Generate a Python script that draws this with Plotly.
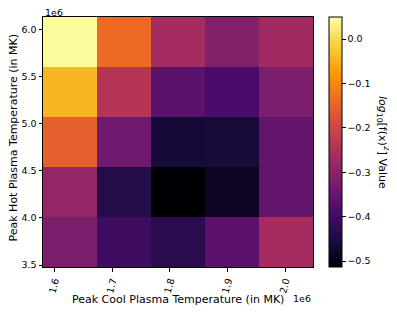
import plotly.graph_objects as go

# Cell centres (data coordinates)
x_cool = [1.6268e6, 1.7204e6, 1.8140e6, 1.9076e6, 2.0012e6]
y_hot = [3.745e6, 4.275e6, 4.805e6, 5.335e6, 5.865e6]

# log10[f(x)^2] values, rows bottom -> top
z_vals = [
    [-0.319, -0.404, -0.430, -0.364, -0.262],
    [-0.287, -0.440, -0.513, -0.482, -0.353],
    [-0.154, -0.339, -0.460, -0.458, -0.355],
    [-0.044, -0.239, -0.366, -0.388, -0.319],
    [0.044, -0.138, -0.263, -0.311, -0.271],
]

x_ticks = [1.6e6, 1.7e6, 1.8e6, 1.9e6, 2.0e6]
x_ticklabels = ["1.6", "1.7", "1.8", "1.9", "2.0"]
y_ticks = [3.5e6, 4.0e6, 4.5e6, 5.0e6, 5.5e6, 6.0e6]
y_ticklabels = ["3.5", "4.0", "4.5", "5.0", "5.5", "6.0"]
cb_ticks = [0.0, -0.1, -0.2, -0.3, -0.4, -0.5]
cb_ticklabels = ["0.0", "\u22120.1", "\u22120.2", "\u22120.3", "\u22120.4", "\u22120.5"]

inferno = ['#000004', '#1b0c41', '#4a0c6b', '#781c6d', '#a52c60',
           '#cf4446', '#ed6925', '#fb9b06', '#f7d13d', '#fcffa4']
cscale = [[i / (len(inferno) - 1), c] for i, c in enumerate(inferno)]

FONT = "DejaVu Sans"
OFF = 8            # browser body margin
PL, PT = 43, 17    # plot-area left/top in the screenshot
PW, PH = 270.0, 250.0


def px(X):
    return (X - PL) / PW


def py(Y):
    return (PT + PH - Y) / PH


fig = go.Figure(go.Heatmap(
    x=x_cool, y=y_hot, z=z_vals,
    colorscale=cscale, zmin=-0.5135, zmax=0.0496,
    showscale=True,
    colorbar=dict(
        x=px(329), xanchor="left",
        y=0, yanchor="bottom",
        len=1, lenmode="fraction", thickness=13, thicknessmode="pixels",
        outlinecolor="black", outlinewidth=1,
        tickvals=cb_ticks, ticktext=cb_ticklabels,
        ticks="outside", ticklen=3.5, tickcolor="black",
        tickfont=dict(family=FONT, size=9.5, color="black"),
        xpad=0, ypad=0,
    ),
))

W, H = 397 - OFF, 313 - OFF
fig.update_layout(
    width=W, height=H,
    margin=dict(l=PL - OFF, r=W - (PL - OFF) - PW, t=PT - OFF,
                b=H - (PT - OFF) - PH, autoexpand=False),
    paper_bgcolor="white", plot_bgcolor="white",
    font=dict(family=FONT, color="black"),
    xaxis=dict(
        range=[1.5800e6, 2.0480e6], automargin=False,
        tickvals=x_ticks, ticktext=x_ticklabels, tickangle=-75,
        ticks="outside", ticklen=3.5, tickcolor="black",
        tickfont=dict(family=FONT, size=9.5, color="black"),
        showline=True, linecolor="black", linewidth=1, mirror=True,
        showgrid=False, zeroline=False,
    ),
    yaxis=dict(
        range=[3.48e6, 6.13e6], automargin=False,
        tickvals=y_ticks, ticktext=y_ticklabels,
        ticks="outside", ticklen=3.5, tickcolor="black",
        tickfont=dict(family=FONT, size=9.5, color="black"),
        showline=True, linecolor="black", linewidth=1, mirror=True,
        showgrid=False, zeroline=False,
    ),
    annotations=[
        dict(text="Peak Cool Plasma Temperature (in MK)", xref="paper", yref="paper",
             x=px(178), y=py(299), xanchor="center", yanchor="middle",
             showarrow=False, font=dict(family=FONT, size=11, color="black")),
        dict(text="Peak Hot Plasma Temperature (in MK)", xref="paper", yref="paper",
             x=px(12.5), y=py(138), xanchor="center", yanchor="middle", textangle=-90,
             showarrow=False, font=dict(family=FONT, size=11, color="black")),
        dict(text="1e6", xref="paper", yref="paper", x=px(43), y=py(12.5),
             xanchor="left", yanchor="middle", showarrow=False,
             font=dict(family=FONT, size=9.5, color="black")),
        dict(text="1e6", xref="paper", yref="paper", x=px(313), y=py(298),
             xanchor="right", yanchor="middle", showarrow=False,
             font=dict(family=FONT, size=9.5, color="black")),
        dict(text="<i>log</i><sub>10</sub>[f(x)<sup>2</sup>] Value",
             xref="paper", yref="paper", x=px(383), y=py(142),
             xanchor="center", yanchor="middle", textangle=90, showarrow=False,
             font=dict(family=FONT, size=11, color="black")),
    ],
)

fig.write_html("out.html")
